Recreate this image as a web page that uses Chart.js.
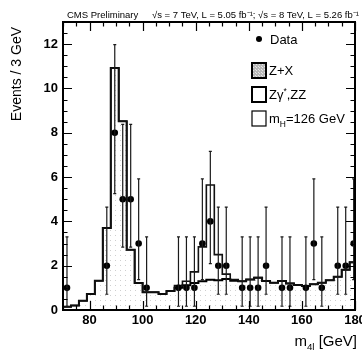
<!DOCTYPE html>
<html>
<head>
<meta charset="utf-8">
<script src="https://cdn.jsdelivr.net/npm/chart.js@4.4.1/dist/chart.umd.min.js"></script>
<style>
  html, body { margin: 0; padding: 0; background: #fff; }
  #wrap { width: 362px; height: 353px; }
</style>
</head>
<body>
<div id="wrap"><canvas id="massChart" width="362" height="353"></canvas></div>
<script>
// 3 GeV bins, low edges
const binLow = [70, 73, 76, 79, 82, 85, 88, 91, 94, 97, 100, 103, 106, 109, 112, 115, 118, 121, 124,
  127, 130, 133, 136, 139, 142, 145, 148, 151, 154, 157, 160, 163, 166, 169, 172, 175, 178];
const binWidth = 3;

// stacked levels
const zxStack = [0.05, 0.05, 0.05, 0.05, 0.05, 0.06, 0.07, 0.07, 0.06, 0.06, 0.08, 0.1, 0.1, 0.12, 0.14,
  0.15, 0.17, 0.18, 0.19, 0.2, 0.2, 0.2, 0.2, 0.21, 0.21, 0.21, 0.22, 0.22, 0.22, 0.22, 0.23, 0.23,
  0.23, 0.23, 0.24, 0.24, 0.25];
const zzStack = [0.15, 0.2, 0.42, 0.72, 1.32, 3.7, 10.92, 8.52, 2.72, 1.22, 0.8, 0.8, 0.72, 0.86, 1.0,
  1.12, 1.22, 1.3, 1.36, 1.34, 1.4, 1.32, 1.3, 1.38, 1.46, 1.31, 1.23, 1.31, 1.2, 1.13, 1.08, 1.16,
  1.23, 1.34, 1.5, 1.82, 2.15];
const higgsStack = [0.15, 0.2, 0.42, 0.72, 1.32, 3.7, 10.92, 8.52, 2.72, 1.22, 0.8, 0.8, 0.72, 0.86, 1.1,
  1.3, 1.72, 2.85, 5.64, 2.5, 1.62, 1.38, 1.3, 1.38, 1.46, 1.31, 1.23, 1.31, 1.2, 1.13, 1.08, 1.16,
  1.23, 1.34, 1.5, 1.82, 2.15];

// data points
const dataMass = [71.5, 86.5, 89.5, 92.5, 95.5, 98.5, 101.5, 113.5, 116.5, 119.5, 122.5, 125.5, 128.5,
  131.5, 137.5, 140.5, 143.5, 146.5, 152.5, 155.5, 161.5, 164.5, 167.5, 173.5, 176.5, 179.5];
const dataCounts = [1, 2, 8, 5, 5, 3, 1, 1, 1, 1, 3, 4, 2, 2, 1, 1, 1, 2, 1, 1, 1, 3, 1, 2, 2, 3];
const dataLow = [0.17, 0.71, 5.25, 2.84, 2.84, 1.37, 0.17, 0.17, 0.17, 0.17, 1.37, 2.09, 0.71, 0.71,
  0.17, 0.17, 0.17, 0.71, 0.17, 0.17, 0.17, 1.37, 0.17, 0.71, 0.71, 1.37];
const dataHigh = [3.3, 4.64, 11.98, 8.38, 8.38, 5.92, 3.3, 3.3, 3.3, 3.3, 5.92, 7.16, 4.64, 4.64,
  3.3, 3.3, 3.3, 4.64, 3.3, 3.3, 3.3, 5.92, 3.3, 4.64, 4.64, 5.92];

const xTickLabels = [80, 100, 120, 140, 160, 180];
const yTickLabels = [0, 2, 4, 6, 8, 10, 12];

const FONT = "'Liberation Sans', Arial, sans-serif";

// turn bin contents into step points
function toSteps(values) {
  const pts = [];
  values.forEach((v, i) => {
    pts.push({ x: binLow[i], y: v });
    pts.push({ x: binLow[i] + binWidth, y: v });
  });
  return pts;
}

// small dotted fill like the scanned print
function dotPattern(bg, dot, step, double) {
  const c = document.createElement('canvas');
  c.width = step; c.height = step;
  const g = c.getContext('2d');
  g.fillStyle = bg; g.fillRect(0, 0, step, step);
  g.fillStyle = dot; g.fillRect(0, 0, 1, 1);
  if (double) g.fillRect(Math.floor(step / 2), Math.floor(step / 2), 1, 1);
  return g.createPattern(c, 'repeat');
}

const zxFill = dotPattern('#8e8e8e', '#d4d4d4', 3, true);
const zxLegendFill = dotPattern('#b8b8b8', '#e6e6e6', 3, true);
const zzFill = dotPattern('#ffffff', '#cfcfcf', 5, false);

// draw text runs with sub/superscripts, returns width
function drawRuns(ctx, runs, x, y, size, measureOnly) {
  let w = 0;
  runs.forEach(r => {
    const s = r.sub || r.sup ? size * 0.65 : size;
    ctx.font = s + 'px ' + FONT;
    const dy = r.sub ? size * 0.28 : r.sup ? -size * 0.4 : 0;
    if (!measureOnly) ctx.fillText(r.t, x + w, y + dy);
    w += ctx.measureText(r.t).width;
  });
  return w;
}

const errorBars = {
  id: 'errorBars',
  afterDatasetsDraw(chart) {
    const { ctx, scales: { x, y } } = chart;
    ctx.save();
    ctx.strokeStyle = '#1a1a1a';
    ctx.lineWidth = 1.2;
    dataMass.forEach((m, i) => {
      const px = x.getPixelForValue(m);
      const top = y.getPixelForValue(dataHigh[i]);
      const bot = y.getPixelForValue(dataLow[i]);
      ctx.beginPath();
      ctx.moveTo(px, top); ctx.lineTo(px, bot);
      ctx.moveTo(px - 1.5, top); ctx.lineTo(px + 1.5, top);
      ctx.moveTo(px - 1.5, bot); ctx.lineTo(px + 1.5, bot);
      ctx.stroke();
    });
    ctx.restore();
  }
};

const frameAndText = {
  id: 'frameAndText',
  afterDraw(chart) {
    const { ctx, chartArea: a, scales: { x, y } } = chart;
    ctx.save();
    ctx.strokeStyle = '#000';
    // inward ticks on all four sides
    ctx.lineWidth = 1.2;
    ctx.beginPath();
    for (let v = 0; v <= 13; v += 0.5) {
      const py = Math.round(y.getPixelForValue(v)) + 0.5;
      const len = v % 2 === 0 ? 9 : 4.5;
      ctx.moveTo(a.left, py); ctx.lineTo(a.left + len, py);
      ctx.moveTo(a.right, py); ctx.lineTo(a.right - len, py);
    }
    for (let v = 70; v <= 180; v += 5) {
      const px = Math.round(x.getPixelForValue(v)) + 0.5;
      const len = v % 20 === 0 ? 9 : 4.5;
      ctx.moveTo(px, a.top); ctx.lineTo(px, a.top + len);
      ctx.moveTo(px, a.bottom); ctx.lineTo(px, a.bottom - len);
    }
    ctx.stroke();
    ctx.lineWidth = 2;
    ctx.strokeRect(a.left, a.top, a.right - a.left, a.bottom - a.top);

    ctx.fillStyle = '#000';
    ctx.textBaseline = 'alphabetic';
    // header
    ctx.font = '9.5px ' + FONT;
    ctx.fillText('CMS Preliminary', 67, 18);
    ctx.fillText('\u221As = 7 TeV, L = 5.05 fb\u207B\u00B9; \u221As = 8 TeV, L = 5.26 fb\u207B\u00B9', 152, 18);

    // y axis title
    ctx.save();
    ctx.translate(17, 27);
    ctx.rotate(-Math.PI / 2);
    ctx.font = '14px ' + FONT;
    ctx.textAlign = 'right';
    ctx.textBaseline = 'middle';
    ctx.fillText('Events / 3 GeV', 0, 0);
    ctx.restore();

    // x axis title
    const xt = [{ t: 'm' }, { t: '4l', sub: true }, { t: ' [GeV]' }];
    const w = drawRuns(ctx, xt, 0, 0, 15, true);
    drawRuns(ctx, xt, 357 - w, 346, 15);

    // legend
    ctx.beginPath();
    ctx.arc(259, 39, 3, 0, Math.PI * 2);
    ctx.fill();
    ctx.font = '13px ' + FONT;
    ctx.fillText('Data', 270, 44);

    ctx.fillStyle = zxLegendFill;
    ctx.fillRect(252, 63, 14, 15);
    ctx.lineWidth = 2;
    ctx.strokeRect(252, 63, 14, 15);
    ctx.fillStyle = '#000';
    drawRuns(ctx, [{ t: 'Z+X' }], 269, 75, 13);

    ctx.strokeRect(252, 87, 14, 15);
    drawRuns(ctx, [{ t: 'Z\u03B3' }, { t: '*', sup: true }, { t: ',ZZ' }], 269, 99, 13);

    ctx.lineWidth = 1.2;
    ctx.strokeRect(252, 111, 14, 15);
    drawRuns(ctx, [{ t: 'm' }, { t: 'H', sub: true }, { t: '=126 GeV' }], 269, 123, 13);
    ctx.restore();
  }
};

new Chart(document.getElementById('massChart'), {
  type: 'line',
  data: {
    datasets: [
      {
        label: 'Data',
        type: 'scatter',
        data: dataMass.map((m, i) => ({ x: m, y: dataCounts[i] })),
        pointRadius: 3.3,
        pointBackgroundColor: '#000',
        pointBorderWidth: 0,
        order: 0
      },
      {
        label: 'mH=126 GeV',
        data: toSteps(higgsStack),
        borderColor: '#111',
        borderWidth: 1.6,
        pointRadius: 0,
        fill: false,
        order: 1
      },
      {
        label: 'Zgamma*,ZZ',
        data: toSteps(zzStack),
        borderColor: '#000',
        borderWidth: 2,
        backgroundColor: zzFill,
        pointRadius: 0,
        fill: 'origin',
        order: 2
      },
      {
        label: 'Z+X',
        data: toSteps(zxStack),
        borderColor: '#222',
        borderWidth: 1.2,
        backgroundColor: zxFill,
        pointRadius: 0,
        fill: 'origin',
        order: 3
      }
    ]
  },
  options: {
    responsive: false,
    animation: false,
    devicePixelRatio: 1,
    layout: { padding: { top: 22, right: 7, left: 0, bottom: 0 } },
    plugins: { legend: { display: false }, tooltip: { enabled: false } },
    elements: { line: { tension: 0 } },
    scales: {
      x: {
        type: 'linear',
        min: 70,
        max: 180,
        grid: { display: false, drawTicks: false },
        border: { display: false },
        afterBuildTicks: (scale) => { scale.ticks = xTickLabels.map(v => ({ value: v })); },
        afterFit: (scale) => { scale.height = 43; scale.paddingLeft = 0; scale.paddingRight = 0; },
        ticks: { color: '#000', font: { family: FONT, size: 13, weight: 'bold' }, padding: 3, maxRotation: 0 }
      },
      y: {
        min: 0,
        max: 13,
        grid: { display: false, drawTicks: false },
        border: { display: false },
        afterBuildTicks: (scale) => { scale.ticks = yTickLabels.map(v => ({ value: v })); },
        afterFit: (scale) => { scale.width = 63; scale.paddingTop = 0; scale.paddingBottom = 0; },
        ticks: { color: '#000', font: { family: FONT, size: 13, weight: 'bold' }, padding: 5 }
      }
    }
  },
  plugins: [errorBars, frameAndText]
});
</script>
</body>
</html>
